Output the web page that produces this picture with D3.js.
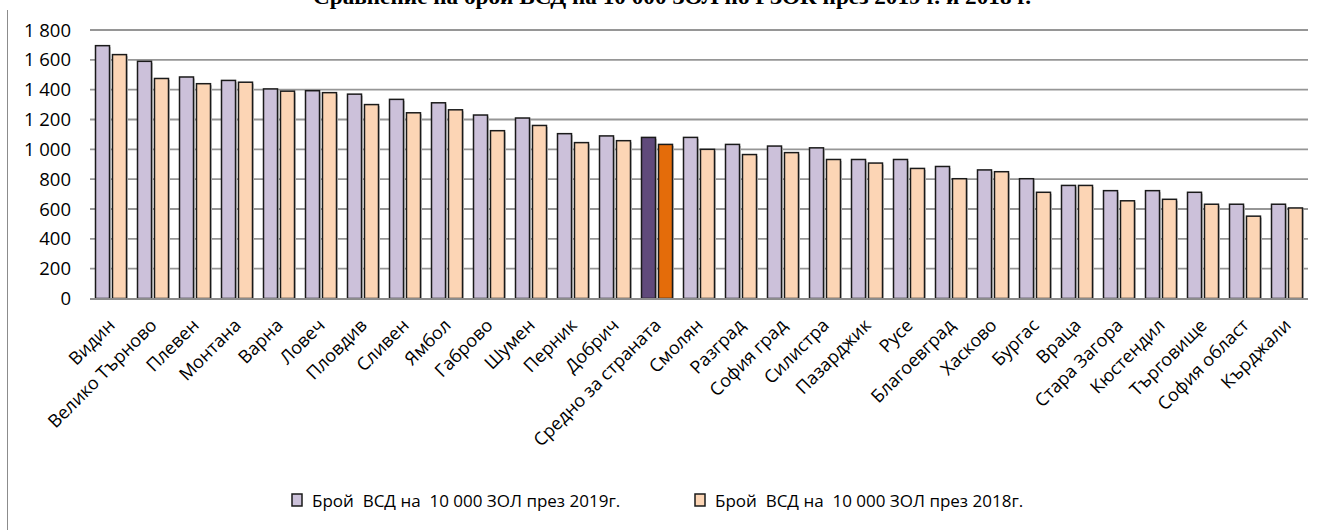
<!DOCTYPE html>
<html>
<head>
<meta charset="utf-8">
<script src="https://cdn.jsdelivr.net/npm/d3@7"></script>
<style>
  html, body { margin: 0; padding: 0; background: #fff; }
  svg { display: block; }
  text { white-space: pre; }
</style>
</head>
<body>
<svg id="chart" width="1317" height="530"></svg>
<script>
const categories = ["Видин", "Велико Търново", "Плевен", "Монтана", "Варна", "Ловеч", "Пловдив", "Сливен", "Ямбол", "Габрово", "Шумен", "Перник", "Добрич", "Средно за страната", "Смолян", "Разград", "София град", "Силистра", "Пазарджик", "Русе", "Благоевград", "Хасково", "Бургас", "Враца", "Стара Загора", "Кюстендил", "Търговище", "София област", "Кърджали"];
const values2019 = [1695, 1590, 1485, 1462, 1405, 1393, 1370, 1335, 1312, 1230, 1210, 1105, 1090, 1080, 1080, 1033, 1022, 1010, 932, 932, 885, 862, 803, 758, 723, 723, 712, 632, 632];
const values2018 = [1635, 1475, 1440, 1450, 1390, 1380, 1300, 1245, 1265, 1125, 1160, 1045, 1058, 1033, 1000, 965, 978, 932, 908, 872, 803, 850, 712, 758, 655, 665, 632, 552, 607];
const seriesNames = ["Брой  ВСД на  10 000 ЗОЛ през 2019г.", "Брой  ВСД на  10 000 ЗОЛ през 2018г."];
const yTicks = [0, 200, 400, 600, 800, 1000, 1200, 1400, 1600, 1800];
const highlightCategory = "Средно за страната";
const titleText = "Сравнение на брой ВСД на 10 000 ЗОЛ по РЗОК през 2019 г. и 2018 г.";

const colors = { s2019: "#CCC1DA", s2018: "#FCD5B5", h2019: "#604A7B", h2018: "#E46C0A" };

const svg = d3.select("#chart");
const plot = { left: 90, right: 1308, top: 30, bottom: 298.5 };

const y = d3.scaleLinear().domain([0, 1800]).range([plot.bottom, plot.top]);
const x0 = d3.scaleBand().domain(categories).range([plot.left, plot.right]).paddingInner(0.262).paddingOuter(0.131);
const keys = ["s2019", "s2018"];
const x1 = d3.scaleBand().domain(keys).range([0, x0.bandwidth()]).paddingInner(0.176);

const data = categories.map((c, i) => ({ cat: c, s2019: values2019[i], s2018: values2018[i] }));

// outer left border
svg.append("line").attr("x1", 7.5).attr("x2", 7.5).attr("y1", 10).attr("y2", 530)
  .attr("stroke", "#8c8c8c").attr("stroke-width", 1);

// title (clipped at top like the reference)
svg.append("text").attr("x", 313).attr("y", 3.5)
  .attr("textLength", 718).attr("lengthAdjust", "spacingAndGlyphs")
  .attr("font-family", "Liberation Serif, serif").attr("font-weight", "bold")
  .attr("font-size", 20).attr("fill", "#000").text(titleText);

// gridlines
const grid = svg.append("g");
grid.selectAll("line").data(yTicks.filter(d => d > 0)).join("line")
  .attr("x1", plot.left).attr("x2", plot.right)
  .attr("y1", d => y(d)).attr("y2", d => y(d))
  .attr("stroke", "#969696").attr("stroke-width", 1.8);

// y axis labels
const yAxis = d3.axisLeft(y).tickValues(yTicks).tickSize(0).tickPadding(0)
  .tickFormat(d => d3.format(",")(d).replace(/,/g, " "));
const yg = svg.append("g").attr("transform", `translate(71,0)`).call(yAxis);
yg.select(".domain").remove();
yg.selectAll("text").attr("font-family", "Open Sans, sans-serif").attr("font-size", 18.5).attr("fill", "#000").attr("dy", "0.33em");

// bars
const groups = svg.append("g").selectAll("g").data(data).join("g")
  .attr("transform", d => `translate(${x0(d.cat)},0)`);

groups.selectAll("rect.shadow").data(d => keys.map(k => ({ k, v: d[k], cat: d.cat }))).join("rect")
  .attr("class", "shadow")
  .attr("x", d => x1(d.k) + 1.5).attr("y", d => y(d.v) + 1.5)
  .attr("width", x1.bandwidth()).attr("height", d => y(0) - y(d.v) - 1.5)
  .attr("fill", "#c8c8c8");

groups.selectAll("rect.bar").data(d => keys.map(k => ({ k, v: d[k], cat: d.cat }))).join("rect")
  .attr("class", "bar")
  .attr("x", d => x1(d.k)).attr("y", d => y(d.v))
  .attr("width", x1.bandwidth()).attr("height", d => y(0) - y(d.v))
  .attr("fill", d => d.cat === highlightCategory ? (d.k === "s2019" ? colors.h2019 : colors.h2018) : colors[d.k])
  .attr("stroke", "#1a1a1a").attr("stroke-width", 1.5);

// x axis line
svg.append("line").attr("x1", plot.left).attr("x2", plot.right)
  .attr("y1", y(0) + 0.5).attr("y2", y(0) + 0.5)
  .attr("stroke", "#8c8c8c").attr("stroke-width", 2.2);

// x labels
const xAxis = d3.axisBottom(x0).tickSize(0).tickPadding(0);
const xg = svg.append("g").attr("transform", `translate(0,${y(0)})`).call(xAxis);
xg.select(".domain").remove();
xg.selectAll("text")
  .attr("font-family", "Open Sans, sans-serif").attr("font-size", 18).attr("fill", "#000")
  .attr("text-anchor", "end").attr("dy", null).attr("y", 0)
  .attr("transform", "translate(5,28) rotate(-45)");

// legend
const legend = svg.append("g");
const legendItems = [
  { x: 292, color: colors.s2019, label: seriesNames[0] },
  { x: 695, color: colors.s2018, label: seriesNames[1] }
];
const li = legend.selectAll("g").data(legendItems).join("g")
  .attr("transform", d => `translate(${d.x},501)`);
li.append("rect").attr("x", 0).attr("y", -7).attr("width", 10).attr("height", 12)
  .attr("fill", d => d.color).attr("stroke", "#1a1a1a").attr("stroke-width", 1.5);
li.append("text").attr("x", 20).attr("y", 6)
  .attr("font-family", "Open Sans, sans-serif").attr("font-size", 17).attr("fill", "#000")
  .text(d => d.label);
</script>
</body>
</html>
